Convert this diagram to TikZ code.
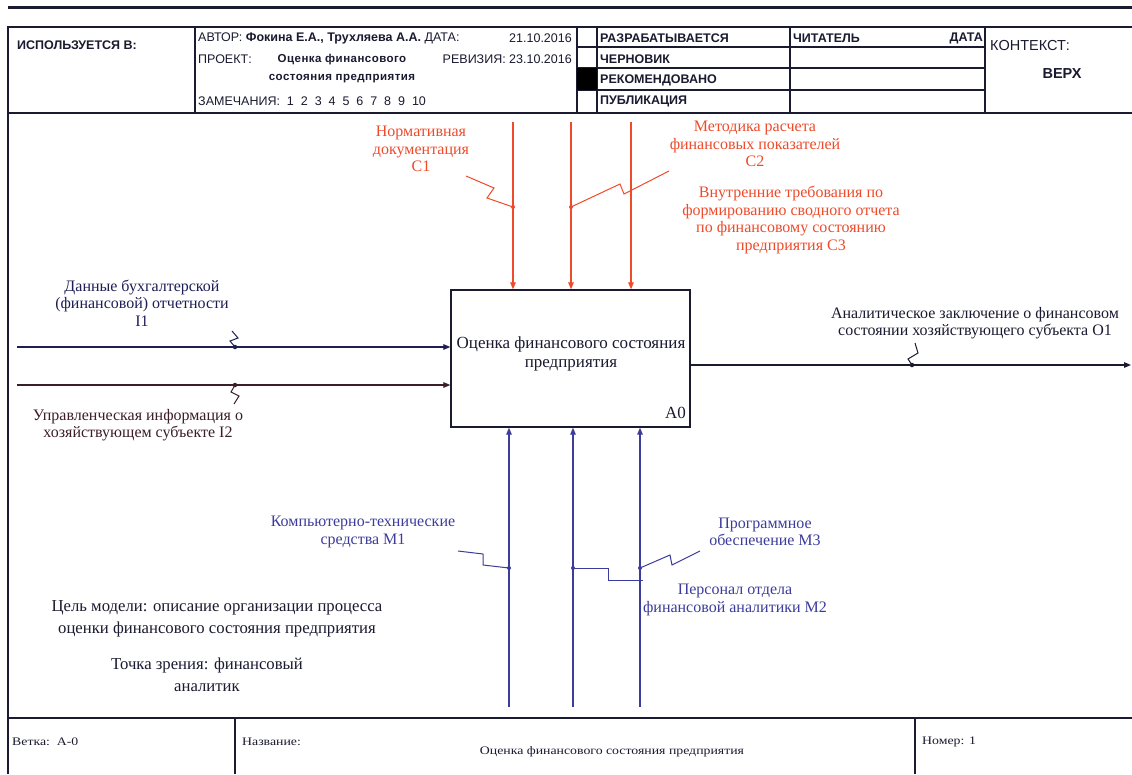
\documentclass[tikz,border=0pt]{standalone}
\usepackage{fontspec}
\setmainfont{Liberation Serif}
\newfontfamily\hdr{Liberation Sans}
\newfontfamily\ftfont[FakeStretch=1.2]{Liberation Serif}
\newfontfamily\hdrwide[LetterSpace=4]{Liberation Sans}
\usetikzlibrary{arrows.meta}
\definecolor{frm}{HTML}{1A1A30}
\definecolor{inA}{HTML}{1E1E55}
\definecolor{inB}{HTML}{3C1E2A}
\definecolor{ctl}{HTML}{EE4B2B}
\definecolor{mch}{HTML}{3C3C9C}
\begin{document}
\begin{tikzpicture}[x=1pt,y=-1pt,
  frame/.style={draw=frm,line width=1.3pt},
  hd/.style={font=\hdr\fontsize{12.5}{14}\selectfont,inner sep=0pt,anchor=west,text=frm},
  hdb/.style={hd,font=\hdr\bfseries\fontsize{12.5}{14}\selectfont},
  lbl/.style={font=\fontsize{16}{17.5}\selectfont,align=center,inner sep=0pt},
  note/.style={font=\fontsize{16.7}{22}\selectfont,align=center,inner sep=0pt,text=frm},
  ft/.style={font=\ftfont\fontsize{11.5}{13}\selectfont,inner sep=0pt,anchor=west,text=frm},
  arr/.style={line width=1.2pt,-{Triangle[length=7pt,width=5.5pt]}},
  sq/.style={line width=1pt},
  dotn/.style={circle,fill,inner sep=0pt,minimum size=4.5pt}]

\useasboundingbox (0,0) rectangle (1132,774);
\fill[white] (0,0) rectangle (1132,774);

% frame
\draw[frm,line width=3pt] (8,7) -- (1132,7);
\draw[frame] (1132,27) -- (8,27) -- (8,774);
\draw[frame] (8,113) -- (1132,113);
\draw[frame] (8,718) -- (1132,718);
\foreach \x in {195,577,597,790,985} \draw[frame] (\x,27) -- (\x,113);
\foreach \y in {47,68,90} \draw[frame] (577,\y) -- (985,\y);
\fill[black] (577,68) rectangle (597,90);
\draw[frame] (235,718) -- (235,774);
\draw[frame] (915,718) -- (915,774);

% header texts
\node[hdb] (used) at (17,45) {ИСПОЛЬЗУЕТСЯ В:};
\node[hd] (auth) at (198,38) {АВТОР: \textbf{Фокина Е.А., Трухляева А.А.} ДАТА:};
\node[hd,anchor=east] (date) at (572,38) {21.10.2016};
\node[hd] (proj) at (198,59) {ПРОЕКТ:};
\node[hd,anchor=center,align=center,font=\hdrwide\bfseries\fontsize{11.5}{18}\selectfont] (projname) at (342,69) {Оценка финансового\\состояния предприятия};
\node[hd,anchor=east] (rev) at (572,59) {РЕВИЗИЯ: 23.10.2016};
\node[hd] (rem) at (198,101) {ЗАМЕЧАНИЯ:\ \ 1\ \ 2\ \ 3\ \ 4\ \ 5\ \ 6\ \ 7\ \ 8\ \ 9\ \ 10};
\node[hdb] (s1) at (600,38) {РАЗРАБАТЫВАЕТСЯ};
\node[hdb] (s2) at (600,59) {ЧЕРНОВИК};
\node[hdb] (s3) at (600,80) {РЕКОМЕНДОВАНО};
\node[hdb] (s4) at (600,101) {ПУБЛИКАЦИЯ};
\node[hdb] (rd) at (793,38) {ЧИТАТЕЛЬ};
\node[hdb,anchor=east] (rdd) at (983,38) {ДАТА};
\node[hd,font=\hdr\fontsize{14.5}{16}\selectfont] (ctx) at (990,46) {КОНТЕКСТ:};
\node[hdb,anchor=center,font=\hdr\bfseries\fontsize{14.5}{16}\selectfont] (top) at (1062,74) {ВЕРХ};

% main box
\node[draw=frm,line width=1.3pt,minimum width=239pt,minimum height=137pt,inner sep=0pt] (a0) at (570.5,358.5) {};
\node[font=\fontsize{17}{19}\selectfont,align=center,inner sep=0pt,text=frm] (a0t) at (571,354) {Оценка финансового состояния\\предприятия};
\node[font=\fontsize{17}{19}\selectfont,inner sep=0pt,anchor=east,text=frm] (a0n) at (686,413) {A0};

% inputs
\coordinate (i1s) at (17,347);
\coordinate (i2s) at (17,385);
\draw[arr,inA] (i1s) -- (i1s -| a0.west);
\draw[arr,inB] (i2s) -- (i2s -| a0.west);
\coordinate (i1d) at (235,347);
\coordinate (i2d) at (235,385);
\node[dotn,inA] (i1dot) at (i1d) {};
\node[dotn,inB] (i2dot) at (i2d) {};
\draw[sq,inA] (i1d) -- ++(-5,-6) -- ++(8,-3) -- ++(-6,-7);
\draw[sq,inB] (i2d) -- ++(-4,7) -- ++(8,4) -- ++(-5,8);
\node[lbl,text=inA] (i1l) at (142,303) {Данные бухгалтерской\\(финансовой) отчетности\\I1};
\node[lbl,text=inB] (i2l) at (138,425) {Управленческая информация о\\хозяйствующем субъекте I2};

% output
\coordinate (o1e) at (1131,365);
\draw[arr,frm] (a0.east |- o1e) -- (o1e);
\coordinate (o1d) at (912,365);
\node[dotn,frm] (o1dot) at (o1d) {};
\draw[sq,frm] (o1d) -- ++(-4,-6) -- ++(10,-6) -- ++(-3,-10);
\node[lbl,text=frm] (o1l) at (975,323) {Аналитическое заключение о финансовом\\состоянии хозяйствующего субъекта O1};

% controls
\coordinate (c1t) at (513,122);
\coordinate (c2t) at (571,122);
\coordinate (c3t) at (631,122);
\draw[arr,ctl] (c1t) -- (c1t |- a0.north);
\draw[arr,ctl] (c2t) -- (c2t |- a0.north);
\draw[arr,ctl] (c3t) -- (c3t |- a0.north);
\coordinate (c1d) at (513,207);
\coordinate (c2d) at (571,207);
\node[dotn,ctl,minimum size=4pt] (c1dot) at (c1d) {};
\node[dotn,ctl,minimum size=4pt] (c2dot) at (c2d) {};
\draw[sq,ctl] (c1d) -- (487,198) -- (494,188) -- (466,176);
\draw[sq,ctl] (c2d) -- (620,184) -- (624,194) -- (669,171);
\node[lbl,text=ctl] (c1l) at (421,149) {Нормативная\\документация\\C1};
\node[lbl,text=ctl] (c2l) at (755,144) {Методика расчета\\финансовых показателей\\C2};
\node[lbl,text=ctl] (c3l) at (791,220) {Внутренние требования по\\формированию сводного отчета\\по финансовому состоянию\\предприятия C3};

% mechanisms
\coordinate (m1b) at (509,707);
\coordinate (m2b) at (573,707);
\coordinate (m3b) at (640,707);
\draw[arr,mch] (m1b) -- (m1b |- a0.south);
\draw[arr,mch] (m2b) -- (m2b |- a0.south);
\draw[arr,mch] (m3b) -- (m3b |- a0.south);
\coordinate (m1d) at (509,568);
\coordinate (m2d) at (573,568);
\coordinate (m3d) at (640,568);
\node[dotn,mch,minimum size=4pt] (m1dot) at (m1d) {};
\node[dotn,mch,minimum size=4pt] (m2dot) at (m2d) {};
\node[dotn,mch,minimum size=4pt] (m3dot) at (m3d) {};
\draw[sq,mch] (m1d) -- (483,565) -- (483,554) -- (458,551);
\draw[sq,mch] (m2d) -- (608,568) -- (608,580) -- (643,580);
\draw[sq,mch] (m3d) -- (670,555) -- (672,565) -- (700,551);
\node[lbl,text=mch] (m1l) at (363,532) {Компьютерно-технические\\средства M1};
\node[lbl,text=mch] (m3l) at (765,532) {Программное\\обеспечение M3};
\node[lbl,text=mch] (m2l) at (735,600) {Персонал отдела\\финансовой аналитики M2};

% notes
\node[note] (goal) at (217,619) {Цель модели: описание организации процесса\\оценки финансового состояния предприятия};
\node[note] (view) at (207,675) {Точка зрения: финансовый\\аналитик};

% footer
\node[ft] (branch) at (12,742) {Ветка:\ \ А-0};
\node[ft] (name) at (242,742) {Название:};
\node[ft,anchor=center] (title) at (612,752) {Оценка финансового состояния предприятия};
\node[ft] (num) at (922,742) {Номер: 1};
\end{tikzpicture}
\end{document}
